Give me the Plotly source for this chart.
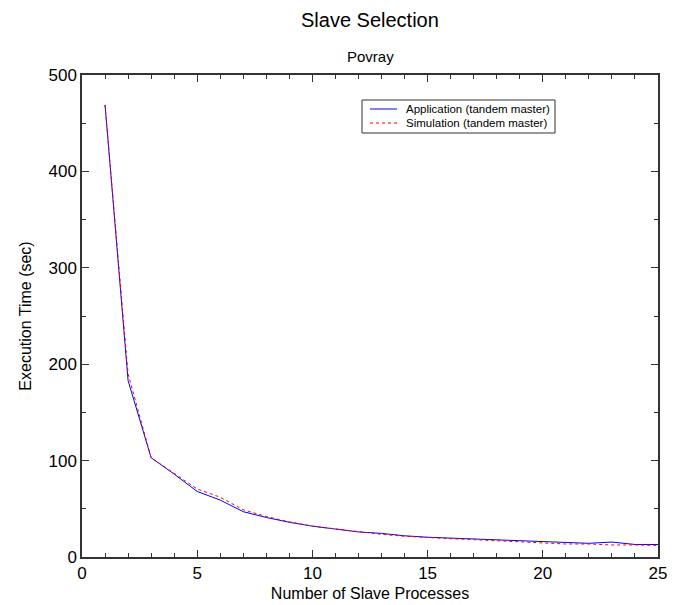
import plotly.graph_objects as go

slaves = list(range(1, 26))
app_time = [469, 183, 103, 86, 68, 59, 47, 41, 36, 32, 29, 26, 24.5, 22, 20.5, 19.5, 18.5, 17.5, 16.5, 15.5, 14.5, 14.2, 15.5, 13, 13]
sim_time = [469, 190, 103, 87, 70.5, 62, 49, 42, 36.5, 32, 29, 26, 23.5, 21.5, 20, 19, 18, 17, 16, 15, 13.5, 13.5, 12.5, 12.5, 12]

x_ticks = [0, 5, 10, 15, 20, 25]
y_ticks = [0, 100, 200, 300, 400, 500]

series_names = ["Application (tandem master)", "Simulation (tandem master)"]
series_colors = ["#0000ff", "#ff0000"]
series_dash = ["solid", "dot"]

font = "Liberation Sans, Arial, sans-serif"

fig = go.Figure()
for name, ys, col, dash in zip(series_names, [app_time, sim_time], series_colors, series_dash):
    fig.add_trace(go.Scatter(x=slaves, y=ys, mode="lines", name=name,
                             line=dict(color=col, width=1, dash=dash), showlegend=False))

axis_common = dict(showline=True, linecolor="#333333", linewidth=1.5, mirror="allticks",
                   ticks="inside", tickcolor="#333333", ticklen=7, tickwidth=1,
                   showgrid=False, zeroline=False, automargin=False,
                   tickfont=dict(family=font, size=17, color="#000000"),
                   title_font=dict(family=font, size=16, color="#000000"))

fig.update_xaxes(range=[0, 25], tickvals=x_ticks, title_text="Number of Slave Processes",
                 title_standoff=6,
                 minor=dict(ticks="inside", ticklen=4, tickcolor="#333333", dtick=1, tick0=0),
                 **axis_common)
fig.update_yaxes(range=[0, 500], tickvals=y_ticks, title_text="Execution Time (sec)",
                 title_standoff=13,
                 minor=dict(ticks="inside", ticklen=4, tickcolor="#333333", dtick=50, tick0=0),
                 **axis_common)

# plot area in pixels: left 82, right 658, top 75, bottom 557
L, R, T, B = 82, 658, 75, 557
def px(xp):
    return (xp - L) / (R - L)
def py(yp):
    return (B - yp) / (B - T)

shapes = [dict(type="rect", xref="paper", yref="paper",
               x0=px(362), x1=px(555), y0=py(133), y1=py(100),
               line=dict(color="#333333", width=1), fillcolor="white", layer="above")]
annotations = [
    dict(text="Slave Selection", x=0.5, y=py(20), xref="paper", yref="paper", showarrow=False,
         yanchor="middle", font=dict(family=font, size=20, color="#000000")),
    dict(text="Povray", x=0.5, y=py(57), xref="paper", yref="paper", showarrow=False,
         yanchor="middle", font=dict(family=font, size=15, color="#000000")),
]
row_y = [109, 123]
for name, col, dash, ry in zip(series_names, series_colors, series_dash, row_y):
    shapes.append(dict(type="line", xref="paper", yref="paper",
                       x0=px(370), x1=px(397), y0=py(ry), y1=py(ry),
                       line=dict(color=col, width=1, dash=dash), layer="above"))
    annotations.append(dict(text=name, x=px(404), y=py(ry), xref="paper", yref="paper",
                            xanchor="left", yanchor="middle", showarrow=False,
                            font=dict(family=font, size=11.5, color="#000000")))

fig.update_layout(
    width=679, height=605,
    margin=dict(l=L, r=679 - R, t=T, b=605 - B, autoexpand=False),
    paper_bgcolor="white", plot_bgcolor="white",
    showlegend=False,
    shapes=shapes,
    annotations=annotations,
)

fig.write_html("out.html")
